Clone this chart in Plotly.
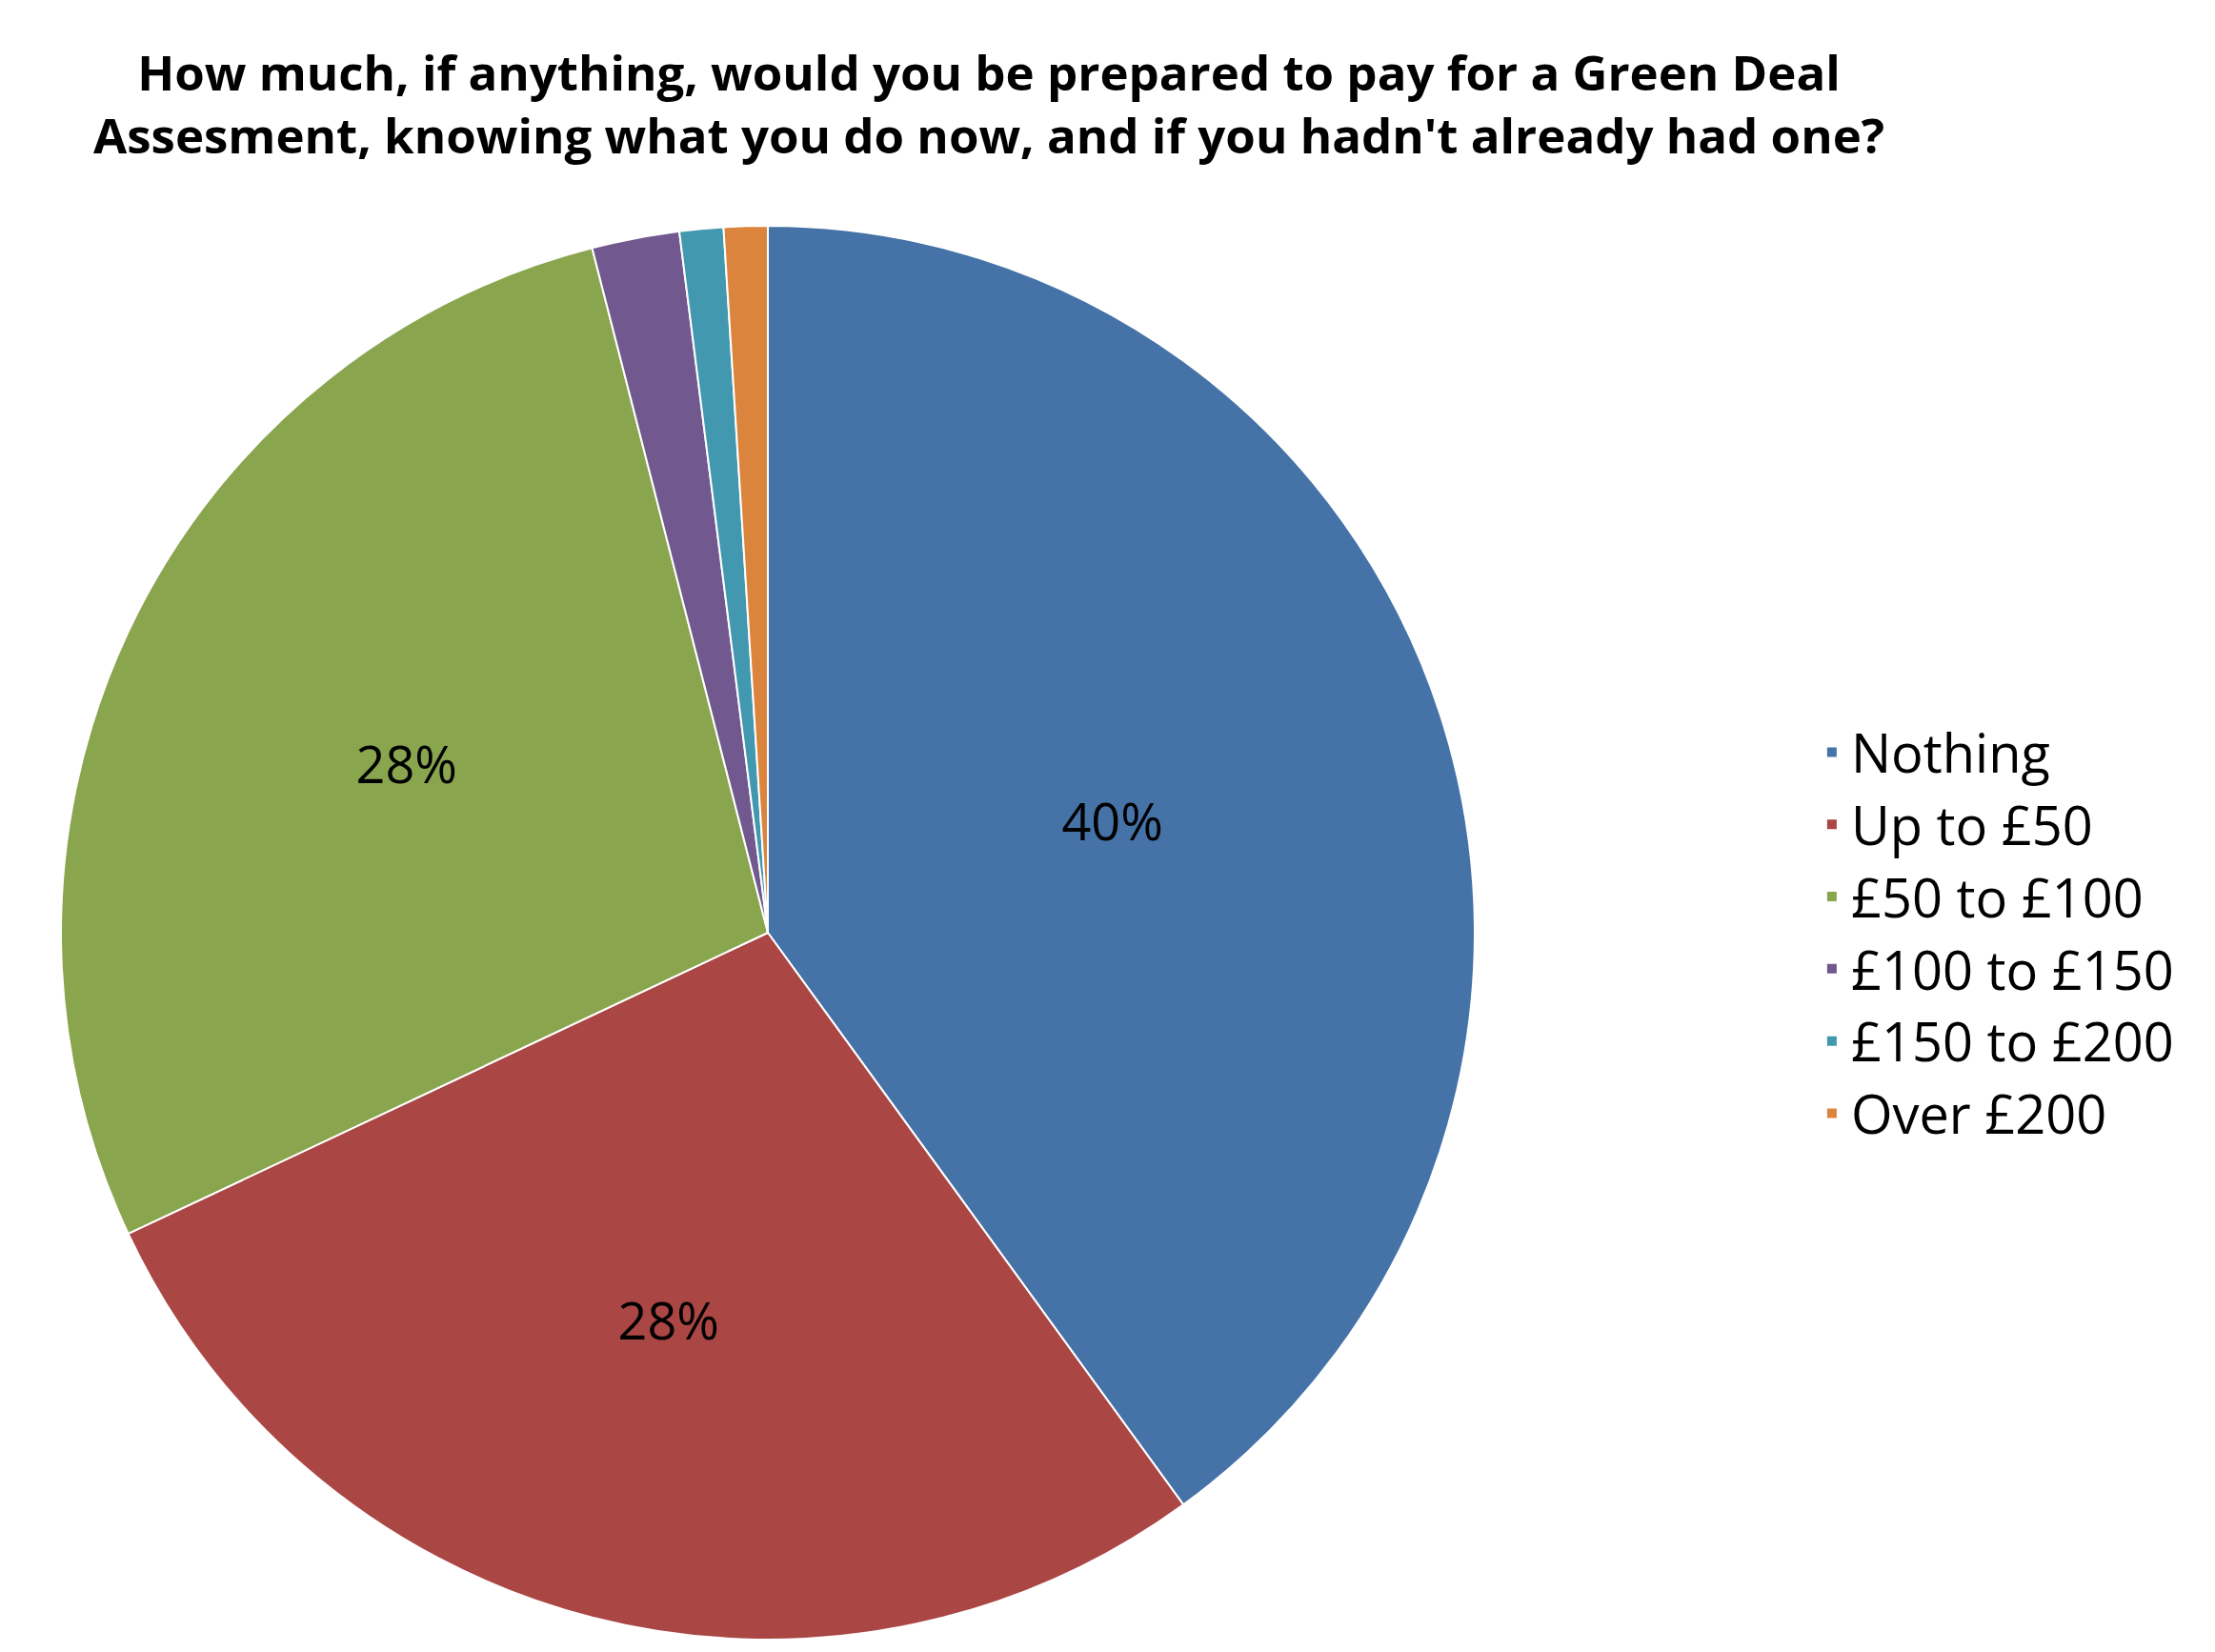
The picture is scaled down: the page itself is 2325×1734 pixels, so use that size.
import plotly.graph_objects as go

categories = ["Nothing", "Up to £50", "£50 to £100", "£100 to £150", "£150 to £200", "Over £200"]
values = [40, 28, 28, 2, 1, 1]
colors = ["#4572A7", "#AA4643", "#89A54E", "#71588F", "#4198AF", "#DB843D"]
texts = ["40%", "28%", "28%", "", "", ""]
title_text = ("<b>How much, if anything, would you be prepared to pay for a Green Deal<br>"
              "Assesment, knowing what you do now, and if you hadn't already had one?</b>")

W, H = 2325, 1734
cx, cy, r = 798, 971, 742

fig = go.Figure(go.Pie(
    labels=categories, values=values, sort=False, direction="clockwise", rotation=0,
    marker=dict(colors=colors, line=dict(color="white", width=2)),
    text=texts, textinfo="text", textposition="inside", insidetextorientation="horizontal",
    textfont=dict(size=54, color="black", family="Open Sans"),
    domain=dict(x=[(cx - r) / W, (cx + r) / W], y=[1 - (cy + r) / H, 1 - (cy - r) / H]),
    hoverinfo="label+percent",
))
fig.add_annotation(text=title_text, xref="paper", yref="paper", x=0.443, y=1 - 30 / H,
                   xanchor="center", yanchor="top", showarrow=False,
                   font=dict(size=51, color="black", family="Open Sans"))
fig.update_layout(
    width=W, height=H, margin=dict(l=0, r=0, t=0, b=0),
    paper_bgcolor="white", plot_bgcolor="white",
    font=dict(family="Open Sans", color="black"),
    legend=dict(x=0.815, y=0.44, xanchor="left", yanchor="middle", font=dict(size=56),
                itemsizing="constant"),
)
fig.write_html("out.html")
